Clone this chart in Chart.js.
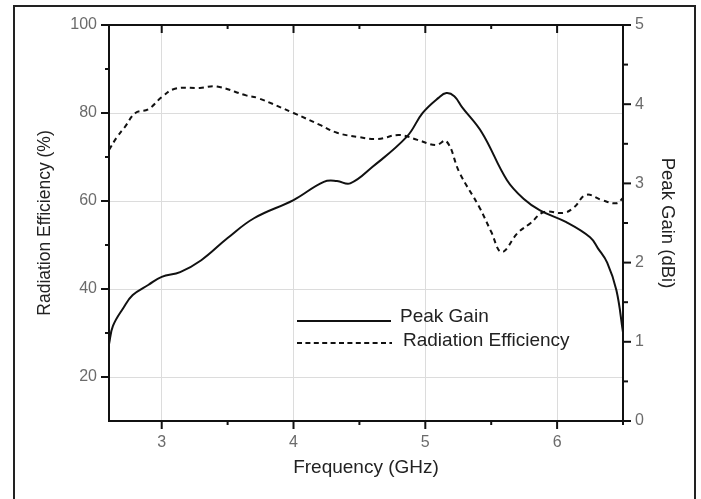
<!DOCTYPE html>
<html>
<head>
<meta charset="utf-8">
<script src="https://cdn.jsdelivr.net/npm/chart.js@4/dist/chart.umd.min.js"></script>
<style>
  html, body { margin: 0; padding: 0; background: #fff; }
  #wrap { width: 701px; height: 499px; position: relative; }
</style>
</head>
<body>
<div id="wrap"><canvas id="grafica" width="701" height="499"></canvas></div>
<script>
// Peak Gain (dBi, eje derecho)
const gainFreq = [2.6, 2.63, 2.71, 2.78, 2.9, 3.0, 3.14, 3.3, 3.5, 3.7, 4.0, 4.23, 4.33, 4.43, 4.6, 4.86, 4.98, 5.1, 5.16, 5.22, 5.28, 5.43, 5.62, 5.75, 5.87, 6.07, 6.25, 6.31, 6.38, 6.45, 6.5];
const gainVal = [0.97, 1.2, 1.43, 1.59, 1.72, 1.82, 1.88, 2.03, 2.31, 2.56, 2.79, 3.02, 3.03, 3.0, 3.21, 3.59, 3.89, 4.08, 4.14, 4.1, 3.96, 3.64, 3.04, 2.8, 2.66, 2.51, 2.32, 2.18, 2.0, 1.65, 1.12];

// Radiation Efficiency (%, eje izquierdo)
const effFreq = [2.6, 2.66, 2.72, 2.8, 2.9, 3.0, 3.1, 3.29, 3.42, 3.64, 3.73, 4.0, 4.2, 4.33, 4.5, 4.64, 4.8, 4.94, 5.08, 5.16, 5.26, 5.41, 5.5, 5.58, 5.7, 5.8, 5.9, 6.05, 6.13, 6.22, 6.34, 6.45, 6.5];
const effVal = [71.6, 74.5, 76.8, 80, 80.9, 83.6, 85.5, 85.7, 86, 84, 83.4, 80, 77.3, 75.5, 74.5, 74.1, 75, 73.9, 72.7, 73.6, 66.4, 58.6, 53, 48.4, 52.7, 55, 57.5, 57.3, 58.6, 61.4, 60.2, 59.5, 60.7];

// Ticks
const xTicks = [3, 4, 5, 6];
const xMinor = [3.5, 4.5, 5.5, 6.5];
const yTicks = [20, 40, 60, 80, 100];
const yMinor = [30, 50, 70, 90];
const y2Ticks = [0, 1, 2, 3, 4, 5];
const y2Minor = [0.5, 1.5, 2.5, 3.5, 4.5];

const FONT = "'Liberation Sans', Arial, sans-serif";

// Marco, ticks y leyenda
const marco = {
  id: 'marco',
  beforeDraw(chart) {
    const ctx = chart.ctx;
    ctx.save();
    ctx.strokeStyle = '#222';
    ctx.lineWidth = 2;
    ctx.strokeRect(14, 6, 681, 520);
    ctx.restore();
  },
  afterDraw(chart) {
    const ctx = chart.ctx;
    const a = chart.chartArea;
    const sx = chart.scales.x, sy = chart.scales.y, sy2 = chart.scales.y2;
    ctx.save();
    ctx.strokeStyle = '#111';
    ctx.lineWidth = 2;
    ctx.strokeRect(a.left, a.top, a.right - a.left, a.bottom - a.top);

    const tick = (x1, y1, x2, y2) => { ctx.beginPath(); ctx.moveTo(x1, y1); ctx.lineTo(x2, y2); ctx.stroke(); };
    xTicks.forEach(v => {
      const px = sx.getPixelForValue(v);
      tick(px, a.bottom, px, a.bottom + 8);
      tick(px, a.top, px, a.top + 8);
    });
    xMinor.forEach(v => {
      if (v > sx.max) return;
      const px = sx.getPixelForValue(v);
      tick(px, a.bottom, px, a.bottom + 4);
      tick(px, a.top, px, a.top + 4);
    });
    yTicks.forEach(v => { const py = sy.getPixelForValue(v); tick(a.left - 8, py, a.left, py); });
    yMinor.forEach(v => { const py = sy.getPixelForValue(v); tick(a.left - 4, py, a.left, py); });
    y2Ticks.forEach(v => { const py = sy2.getPixelForValue(v); tick(a.right, py, a.right + 8, py); });
    y2Minor.forEach(v => { const py = sy2.getPixelForValue(v); tick(a.right, py, a.right + 5, py); });

    // Leyenda
    ctx.lineWidth = 2;
    ctx.strokeStyle = '#111';
    tick(297, 321, 391, 321);
    ctx.setLineDash([5, 3.4]);
    tick(297, 343, 392, 343);
    ctx.setLineDash([]);
    ctx.fillStyle = '#222';
    ctx.font = '19px ' + FONT;
    ctx.textBaseline = 'middle';
    ctx.fillText('Peak Gain', 400, 317);
    ctx.fillText('Radiation Efficiency', 403, 341);
    ctx.restore();
  }
};

new Chart(document.getElementById('grafica'), {
  type: 'line',
  data: {
    datasets: [
      {
        label: 'Peak Gain',
        data: gainFreq.map((f, i) => ({ x: f, y: gainVal[i] })),
        yAxisID: 'y2',
        borderColor: '#111',
        borderWidth: 2,
        pointRadius: 0,
        tension: 0.4,
        fill: false
      },
      {
        label: 'Radiation Efficiency',
        data: effFreq.map((f, i) => ({ x: f, y: effVal[i] })),
        yAxisID: 'y',
        borderColor: '#111',
        borderWidth: 2,
        borderDash: [5, 4],
        pointRadius: 0,
        tension: 0.4,
        fill: false
      }
    ]
  },
  options: {
    responsive: false,
    animation: false,
    layout: { padding: { left: 0, right: 0, top: 25, bottom: 0 } },
    plugins: { legend: { display: false }, tooltip: { enabled: false } },
    scales: {
      x: {
        type: 'linear',
        min: 2.6,
        max: 6.5,
        afterBuildTicks: s => { s.ticks = xTicks.map(v => ({ value: v })); },
        afterFit: s => { s.height = 78; },
        grid: { color: '#dcdcdc', drawTicks: false },
        border: { display: false },
        ticks: { padding: 12, color: '#6b6b6b', font: { family: FONT, size: 16 } },
        title: { display: true, text: 'Frequency (GHz)', color: '#222', font: { family: FONT, size: 19 }, padding: { top: 0, bottom: 20 } }
      },
      y: {
        position: 'left',
        min: 10,
        max: 100,
        afterBuildTicks: s => { s.ticks = yTicks.map(v => ({ value: v })); },
        afterFit: s => { s.width = 109; },
        grid: { color: '#dcdcdc', drawTicks: false },
        border: { display: false },
        ticks: { padding: 12, color: '#6b6b6b', font: { family: FONT, size: 16 } },
        title: { display: true, text: 'Radiation Efficiency (%)', color: '#222', font: { family: FONT, size: 17.5 }, padding: { top: 35, bottom: 0 } }
      },
      y2: {
        position: 'right',
        min: 0,
        max: 5,
        afterBuildTicks: s => { s.ticks = y2Ticks.map(v => ({ value: v })); },
        afterFit: s => { s.width = 78; },
        grid: { display: false, drawTicks: false },
        border: { display: false },
        ticks: { padding: 12, color: '#6b6b6b', font: { family: FONT, size: 16 } },
        title: { display: true, text: 'Peak Gain (dBi)', color: '#222', font: { family: FONT, size: 18.5 }, padding: { top: 23, bottom: 0 } }
      }
    }
  },
  plugins: [marco]
});
</script>
</body>
</html>
